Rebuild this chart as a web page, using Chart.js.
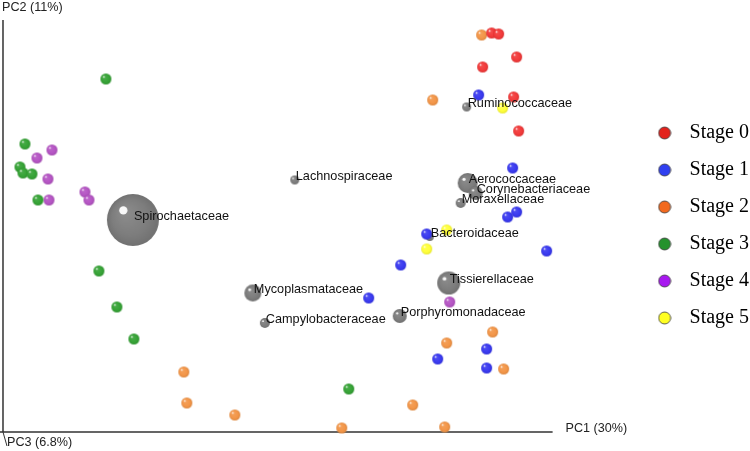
<!DOCTYPE html>
<html>
<head>
<meta charset="utf-8">
<script src="https://cdn.jsdelivr.net/npm/chart.js@4.4.1/dist/chart.umd.min.js"></script>
<style>
  html, body { margin: 0; padding: 0; background: #fff; }
</style>
</head>
<body>
<canvas id="pca" width="750" height="451"></canvas>
<script>
// PCA scores (arbitrary units, origin where the PC1 / PC2 axes meet)
const stageNames = ['Stage 0', 'Stage 1', 'Stage 2', 'Stage 3', 'Stage 4', 'Stage 5'];

const stage0 = [[489, 399], [496, 398], [514, 375], [480, 365], [511, 335], [516, 301]];
const stage1 = [[476, 337], [510, 264], [514, 220], [505, 215], [424, 198], [544, 181],
                [398, 167], [366, 134], [484, 83], [435, 73], [484, 64]];
const stage2 = [[479, 397], [430, 332], [490, 100], [444, 89], [501, 63], [410, 27],
                [442, 5], [181, 60], [184, 29], [232, 17], [339, 4]];
const stage3 = [[103, 353], [22, 288], [17, 265], [20, 259], [29, 258], [35, 232],
                [96, 161], [114, 125], [131, 93], [346, 43]];
const stage4 = [[49, 282], [34, 274], [45, 253], [82, 240], [86, 232], [46, 232], [447, 130]];
const stage5 = [[500, 324], [444, 202], [424, 183]];
const stageData = [stage0, stage1, stage2, stage3, stage4, stage5];

// family loadings, size = relative abundance
const families = ['Spirochaetaceae', 'Lachnospiraceae', 'Ruminococcaceae', 'Aerococcaceae',
                  'Corynebacteriaceae', 'Moraxellaceae', 'Bacteroidaceae', 'Tissierellaceae',
                  'Mycoplasmataceae', 'Campylobacteraceae', 'Porphyromonadaceae'];
const familyX = [130, 292, 464, 465, 473, 458, 427, 446, 250, 262, 397];
const familyY = [212, 252, 325, 249, 239, 229, 195, 149, 139, 109, 116];
const familySize = [26, 4.5, 4.5, 10, 7, 5, 4, 11.5, 8.5, 5, 7];

const axisTitles = ['PC1 (30%)', 'PC2 (11%)', 'PC3 (6.8%)'];

const pointColors = ['#f23a3a', '#3a3af0', '#f39648', '#36a336', '#b555c4', '#ffff3a'];
const legendColors = ['#e3221c', '#3040f0', '#f26a1f', '#25922d', '#a818f0', '#ffff22'];
const familyColor = '#7d7d7d';

function shade(hex, amt) {
    const n = parseInt(hex.slice(1), 16);
    let r = n >> 16, g = (n >> 8) & 255, b = n & 255;
    const t = amt > 0 ? 255 : 0, p = Math.abs(amt);
    r = Math.round(r + (t - r) * p);
    g = Math.round(g + (t - g) * p);
    b = Math.round(b + (t - b) * p);
    return `rgb(${r},${g},${b})`;
}

// little shaded balls like the original 3D plot
const sphereCache = {};
function sphere(color, r) {
    const key = color + '_' + r;
    if (sphereCache[key]) return sphereCache[key];
    const size = Math.ceil(r * 2) + 2;
    const c = document.createElement('canvas');
    c.width = c.height = size;
    const g = c.getContext('2d');
    const m = size / 2;
    const grad = g.createRadialGradient(m - r * 0.35, m - r * 0.35, 0, m, m, r);
    grad.addColorStop(0, shade(color, 0.12));
    grad.addColorStop(0.7, color);
    grad.addColorStop(1, shade(color, -0.1));
    g.fillStyle = grad;
    g.beginPath();
    g.arc(m, m, r, 0, Math.PI * 2);
    g.fill();
    g.fillStyle = 'rgba(255,255,255,0.95)';
    g.beginPath();
    g.arc(m - r * 0.37, m - r * 0.37, Math.max(0.9, r * 0.16), 0, Math.PI * 2);
    g.fill();
    sphereCache[key] = c;
    return c;
}

function legendDot(color) {
    const c = document.createElement('canvas');
    c.width = c.height = 14;
    const g = c.getContext('2d');
    g.fillStyle = color;
    g.strokeStyle = '#3a3a3a';
    g.lineWidth = 0.8;
    g.beginPath();
    g.arc(7, 7, 6, 0, Math.PI * 2);
    g.fill();
    g.stroke();
    return c;
}

const datasets = stageData.map((pts, i) => ({
    label: stageNames[i],
    data: pts.map(p => ({ x: p[0], y: p[1] })),
    pointStyle: sphere(pointColors[i], 5.5),
    pointRadius: 5.5,
    backgroundColor: pointColors[i],
    clip: false
}));

datasets.push({
    type: 'bubble',
    label: 'families',
    data: families.map((f, i) => ({ x: familyX[i], y: familyY[i], r: familySize[i] })),
    backgroundColor: familyColor,
    pointStyle: ctx => sphere(familyColor, ctx.raw ? ctx.raw.r : 5),
    clip: false
});

const annotate = {
    id: 'annotate',
    beforeDatasetsDraw(chart) {
        const { ctx, scales: { x, y } } = chart;
        const x0 = x.getPixelForValue(0);
        const y0 = y.getPixelForValue(0);
        const top = y.getPixelForValue(412);
        const right = x.getPixelForValue(550);
        ctx.save();
        ctx.strokeStyle = '#333';
        ctx.lineWidth = 1.5;
        ctx.beginPath();
        ctx.moveTo(x0, top);
        ctx.lineTo(x0, y0);
        ctx.moveTo(x.getPixelForValue(-3), y0);
        ctx.lineTo(right, y0);
        ctx.stroke();
        // PC3 axis, pointing towards the viewer
        ctx.lineWidth = 1;
        ctx.beginPath();
        ctx.moveTo(x0, y0);
        ctx.lineTo(x0 + 4, y0 + 14);
        ctx.stroke();

        ctx.fillStyle = '#222';
        ctx.font = '12.6px "Liberation Sans", Arial, sans-serif';
        ctx.textBaseline = 'middle';
        ctx.textAlign = 'left';
        ctx.fillText(axisTitles[0], right + 13, y0 - 3);
        ctx.fillText(axisTitles[1], x0 - 1, top - 12);
        ctx.fillText(axisTitles[2], x0 + 4, y0 + 11);
        ctx.restore();
    },
    afterDatasetsDraw(chart) {
        const { ctx } = chart;
        const meta = chart.getDatasetMeta(chart.data.datasets.length - 1);
        ctx.save();
        ctx.fillStyle = '#111';
        ctx.font = '12.7px "Liberation Sans", Arial, sans-serif';
        ctx.textBaseline = 'middle';
        ctx.textAlign = 'left';
        meta.data.forEach((pt, i) => {
            ctx.fillText(families[i], pt.x + 1, pt.y - 4);
        });
        ctx.restore();
    }
};

new Chart(document.getElementById('pca'), {
    type: 'scatter',
    data: { datasets },
    options: {
        responsive: false,
        animation: false,
        layout: { autoPadding: false, padding: { left: 0, top: 0, bottom: 0, right: -9 } },
        scales: {
            x: { type: 'linear', display: false, min: -3, max: 630 },
            y: { type: 'linear', display: false, min: -19, max: 432 }
        },
        plugins: {
            tooltip: { enabled: false },
            legend: {
                position: 'right',
                align: 'center',
                labels: {
                    usePointStyle: true,
                    pointStyleWidth: 30,
                    padding: 17,
                    color: '#1a1a1a',
                    font: { family: '"Liberation Serif", "Times New Roman", serif', size: 20 },
                    generateLabels: () => stageNames.map((name, i) => ({
                        text: name,
                        fillStyle: legendColors[i],
                        strokeStyle: '#3a3a3a',
                        lineWidth: 0.8,
                        pointStyle: legendDot(legendColors[i]),
                        datasetIndex: i,
                        hidden: false
                    }))
                }
            }
        }
    },
    plugins: [annotate]
});
</script>
</body>
</html>
